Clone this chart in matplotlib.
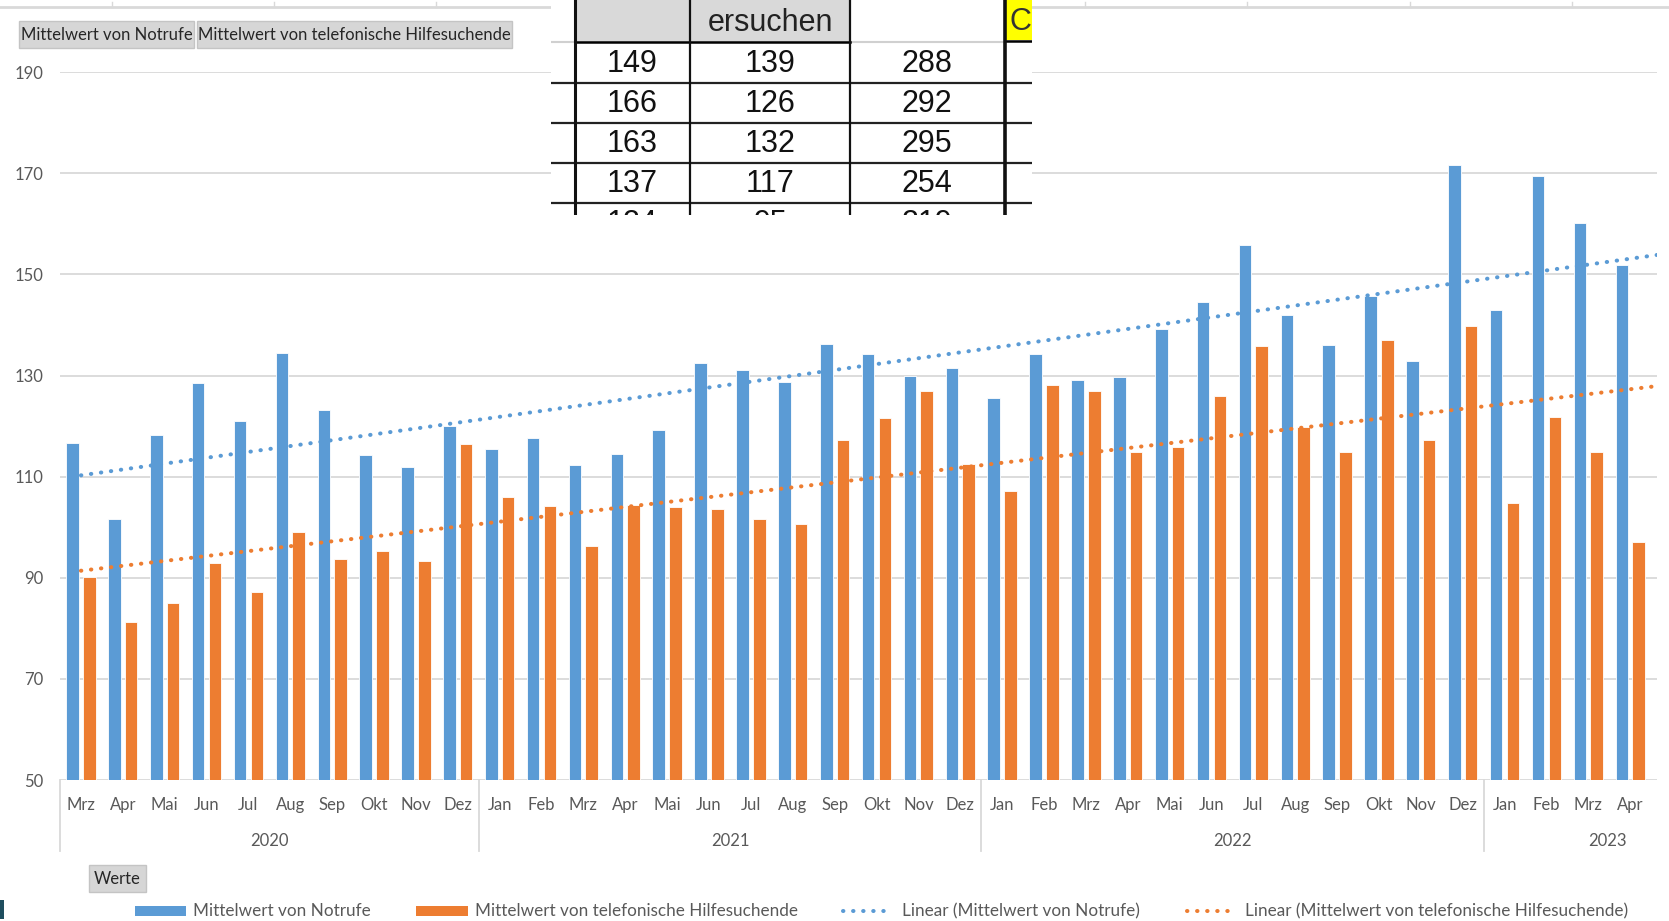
import matplotlib
matplotlib.use('Agg')
import matplotlib.pyplot as plt
import matplotlib.patches as patches
import matplotlib.transforms as mtransforms
import numpy as np

# data
months = ['Mrz', 'Apr', 'Mai', 'Jun', 'Jul', 'Aug', 'Sep', 'Okt', 'Nov', 'Dez',
          'Jan', 'Feb', 'Mrz', 'Apr', 'Mai', 'Jun', 'Jul', 'Aug', 'Sep', 'Okt', 'Nov', 'Dez',
          'Jan', 'Feb', 'Mrz', 'Apr', 'Mai', 'Jun', 'Jul', 'Aug', 'Sep', 'Okt', 'Nov', 'Dez',
          'Jan', 'Feb', 'Mrz', 'Apr']
years = ['2020', '2021', '2022', '2023']
year_counts = [10, 12, 12, 4]
notrufe = [116.7, 101.6, 118.2, 128.5, 121.0, 134.5, 123.2, 114.2, 112.0, 120.1,
           115.5, 117.6, 112.4, 114.5, 119.2, 132.4, 131.2, 128.7, 136.2, 134.3, 130.0, 131.5,
           125.6, 134.3, 129.1, 129.7, 139.2, 144.5, 155.9, 142.0, 136.1, 145.7, 132.8, 171.7,
           142.9, 169.4, 160.2, 151.9]
hilfesuchende = [90.1, 81.2, 85.0, 92.9, 87.1, 99.1, 93.8, 95.4, 93.3, 116.4,
                 105.9, 104.3, 96.3, 104.4, 104.1, 103.7, 101.6, 100.6, 117.3, 121.7, 126.9, 112.6,
                 107.1, 128.1, 126.9, 114.8, 115.8, 126.0, 135.8, 119.8, 114.8, 137.0, 117.3, 139.9,
                 104.7, 121.9, 114.8, 97.0]
yticks = [50, 70, 90, 110, 130, 150, 170, 190]

# pasted spreadsheet snippet on top of the chart
table_col1 = [149, 166, 163, 137, 124]
table_col2 = [139, 126, 132, 117, 95]
table_col3 = [288, 292, 295, 254, 219]

BLUE = '#5B9BD5'
ORANGE = '#ED7D31'
GRID = '#D9D9D9'
TXT = '#595959'
FONT = 'Lato'
DOTS = (0, (0.1, 2.4))

W, H = 1669, 921
fig = plt.figure(figsize=(W / 100, H / 100), dpi=100)
fig.patch.set_facecolor('white')

ax_l, ax_r, ax_t, ax_b = 60, 1657, 72.3, 780
ax = fig.add_axes([ax_l / W, 1 - ax_b / H, (ax_r - ax_l) / W, (ax_b - ax_t) / H])

x = np.arange(len(months))
ax.bar(x - 0.2, notrufe, 0.3, color=BLUE, edgecolor='white', linewidth=0.6, zorder=2)
ax.bar(x + 0.2, hilfesuchende, 0.3, color=ORANGE, edgecolor='white', linewidth=0.6, zorder=2)

xmax = len(months) - 0.36
ax.set_xlim(-0.5, xmax)
ax.set_ylim(50, 190)

# linear trend lines like Excel
xt = np.array([0, xmax])
for vals, col in [(notrufe, BLUE), (hilfesuchende, ORANGE)]:
    k, b = np.polyfit(x, vals, 1)
    ax.plot(xt, k * xt + b, color=col, lw=2.9, linestyle=DOTS,
            dash_capstyle='round', zorder=3)

ax.set_yticks(yticks)
ax.yaxis.grid(True, color=GRID, lw=1.3)
ax.set_axisbelow(True)
for s in ax.spines.values():
    s.set_visible(False)
ax.set_xticks([])
ax.tick_params(axis='y', length=0, pad=12, labelsize=12, labelcolor=TXT)
for lab in ax.get_yticklabels():
    lab.set_fontfamily(FONT)

# category axis: months + years
trans = mtransforms.blended_transform_factory(ax.transData, ax.transAxes)
hpx = ax_b - ax_t
for i, m in enumerate(months):
    ax.text(i, -(805 - ax_b) / hpx, m, transform=trans, ha='center', va='center',
            fontsize=12, color=TXT, family=FONT)
start = 0
bounds = [-0.5]
for yr, n in zip(years, year_counts):
    end = start + n - 1
    if yr == years[-1]:
        end += 1.9  # last group is cut off by the screenshot
    ax.text((start + end) / 2, -(841 - ax_b) / hpx, yr, transform=trans, ha='center',
            va='center', fontsize=12, color=TXT, family=FONT)
    start += n
    bounds.append(start - 0.5)
for bx in bounds[:-1]:
    ax.plot([bx, bx], [0, -(851 - ax_b) / hpx], transform=trans, color=GRID, lw=1.3,
            clip_on=False)

# decorations in pixel coords
deco = fig.add_axes([0, 0, 1, 1])
deco.set_xlim(0, W)
deco.set_ylim(H, 0)
deco.axis('off')
deco.set_zorder(5)

deco.plot([0, 551], [7, 7], color=GRID, lw=2)
deco.plot([1032, W], [7, 7], color=GRID, lw=2)
for tx in np.arange(112, W, 162.2):
    if tx < 551 or tx > 1032:
        deco.plot([tx, tx], [2, 7], color=GRID, lw=1)

# field buttons
for (bx, bw, label) in [(19, 175, 'Mittelwert von Notrufe'),
                        (197, 315, 'Mittelwert von telefonische Hilfesuchende')]:
    deco.add_patch(patches.Rectangle((bx, 21), bw, 27, fc='#D6D6D6', ec='#C4C4C4', lw=1))
    deco.text(bx + bw / 2, 35, label, ha='center', va='center', fontsize=12,
              color='#262626', family=FONT)
deco.add_patch(patches.Rectangle((89, 865), 57, 27, fc='#D6D6D6', ec='#C4C4C4', lw=1))
deco.text(117.5, 879, 'Werte', ha='center', va='center', fontsize=12, color='#262626',
          family=FONT)

# legend
ly = 911
deco.add_patch(patches.Rectangle((135, ly - 5), 51, 10, fc=BLUE, ec='none'))
deco.text(193, ly, 'Mittelwert von Notrufe', ha='left', va='center', fontsize=12.3,
          color=TXT, family=FONT)
deco.add_patch(patches.Rectangle((416, ly - 5), 52, 10, fc=ORANGE, ec='none'))
deco.text(475, ly, 'Mittelwert von telefonische Hilfesuchende', ha='left', va='center',
          fontsize=12.3, color=TXT, family=FONT)
deco.plot([843, 893], [ly, ly], color=BLUE, lw=2.9, linestyle=DOTS,
          dash_capstyle='round')
deco.text(902, ly, 'Linear (Mittelwert von Notrufe)', ha='left', va='center',
          fontsize=12.3, color=TXT, family=FONT)
deco.plot([1187, 1237], [ly, ly], color=ORANGE, lw=2.9, linestyle=DOTS,
          dash_capstyle='round')
deco.text(1245, ly, 'Linear (Mittelwert von telefonische Hilfesuchende)', ha='left',
          va='center', fontsize=12.3, color=TXT, family=FONT)
deco.add_patch(patches.Rectangle((0, 900), 4, 19, fc='#1F4E5F', ec='none'))

# table snippet
tab = fig.add_axes([551 / W, 1 - 215 / H, 481 / W, 215 / H])
tab.set_xlim(551, 1032)
tab.set_ylim(215, 0)
tab.axis('off')
tab.set_zorder(6)
tab.add_patch(patches.Rectangle((551, 0), 481, 215, fc='white', ec='none'))
tab.add_patch(patches.Rectangle((575, 0), 275, 42, fc='#D9D9D9', ec='none'))
tab.add_patch(patches.Rectangle((1005, 0), 27, 40, fc='#FFFF00', ec='none'))
tab.plot([551, 575], [42, 42], color='#D0D0D0', lw=1.5)
tab.plot([850, 1005], [42, 42], color='#D0D0D0', lw=1.5)
tab.plot([575, 850], [42, 42], color='black', lw=1.8)
tab.plot([1005, 1032], [41, 41], color='black', lw=1.8)
row_y = [64, 104, 144, 184, 224]
for yy in [83, 123, 163, 203]:
    tab.plot([551, 1032], [yy, yy], color='#222222', lw=1.6)
for vx, lw in [(575, 2.2), (690, 1.6), (850, 1.6), (1005, 2.6)]:
    tab.plot([vx, vx], [0, 215], color='#111111', lw=lw)
tab.text(770, 23, 'ersuchen', ha='center', va='center', fontsize=22,
         color='#222222', family='Liberation Sans')
tab.text(1009, 22, 'C', ha='left', va='center', fontsize=22, color='#333333',
         family='Liberation Sans', clip_on=True)
for ry, a, b, c in zip(row_y, table_col1, table_col2, table_col3):
    for cx, v in [(632, a), (770, b), (927, c)]:
        tab.text(cx, ry, str(v), ha='center', va='center', fontsize=22, color='#111111',
                 family='Liberation Sans', clip_on=True)

plt.savefig('out.png', dpi=100, facecolor='white')
plt.close()
